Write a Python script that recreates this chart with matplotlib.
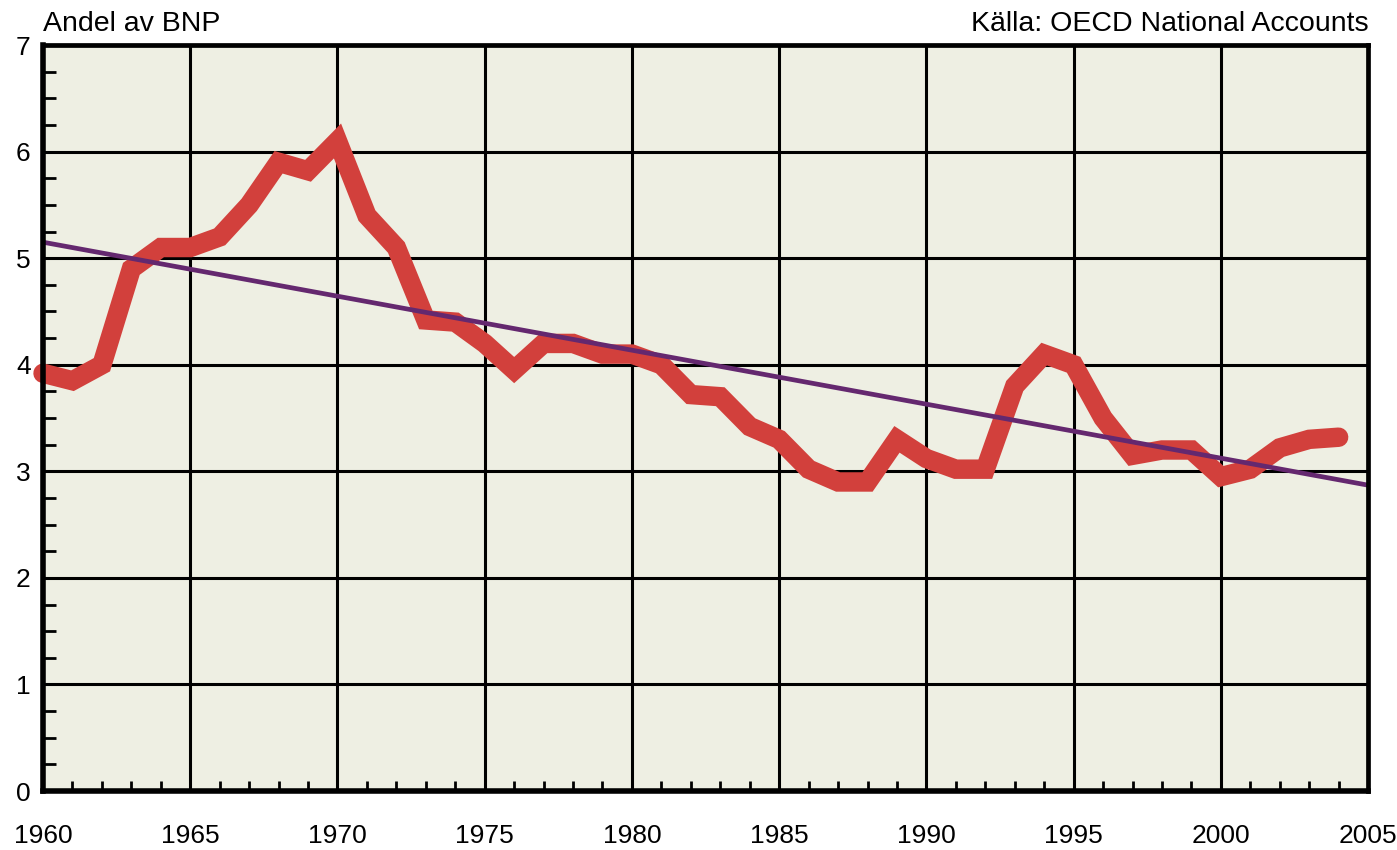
import matplotlib.pyplot as plt
from matplotlib.ticker import MultipleLocator

plt.rcParams['font.family'] = ['Liberation Sans', 'DejaVu Sans']

years = list(range(1960, 2005))
share = [3.92, 3.85, 4.0, 4.9, 5.1, 5.1, 5.2, 5.5, 5.9, 5.82, 6.1,
         5.4, 5.1, 4.42, 4.4, 4.2, 3.95, 4.2, 4.2, 4.1, 4.1,
         4.0, 3.72, 3.7, 3.42, 3.3, 3.02, 2.9, 2.9, 3.3, 3.12,
         3.02, 3.02, 3.8, 4.1, 4.0, 3.5, 3.15, 3.2, 3.2, 2.95,
         3.02, 3.22, 3.3, 3.32]
trend_years = [1960, 2005]
trend_vals = [5.15, 2.87]
xticks = list(range(1960, 2006, 5))
yticks = list(range(0, 8))

fig = plt.figure(figsize=(13.97, 8.5), dpi=100)
ax = fig.add_axes([0.0308, 0.0694, 0.9485, 0.8776])
ax.set_facecolor('#EEEFE3')

ax.plot(years, share, color='#D2403C', lw=14, solid_capstyle='round',
        solid_joinstyle='miter', zorder=3, clip_on=False)
ax.plot(trend_years, trend_vals, color='#64286F', lw=3.4, zorder=4)

ax.set_xlim(1960, 2005)
ax.set_ylim(0, 7)
ax.set_xticks(xticks)
ax.set_yticks(yticks)
ax.xaxis.set_minor_locator(MultipleLocator(1))
ax.yaxis.set_minor_locator(MultipleLocator(0.25))
ax.grid(True, which='major', color='black', lw=2.2, zorder=1)
ax.set_axisbelow(True)

ax.tick_params(which='major', length=0, labelsize=19, pad=9)
ax.tick_params(axis='x', which='major', pad=24)
ax.tick_params(which='minor', direction='in', width=2, color='black')
ax.tick_params(axis='x', which='minor', length=7)
ax.tick_params(axis='y', which='minor', length=9.5)

for s in ax.spines.values():
    s.set_linewidth(3.4)
    s.set_color('black')
    s.set_zorder(5)
ax.spines['left'].set_linewidth(4)
ax.spines['bottom'].set_linewidth(4)

fig.text(0.031, 0.9635, 'Andel av BNP', fontsize=20.5, ha='left', va='baseline')
fig.text(0.980, 0.9635, 'Källa: OECD National Accounts', fontsize=20.5,
         ha='right', va='baseline')

fig.savefig('out.png', dpi=100)
